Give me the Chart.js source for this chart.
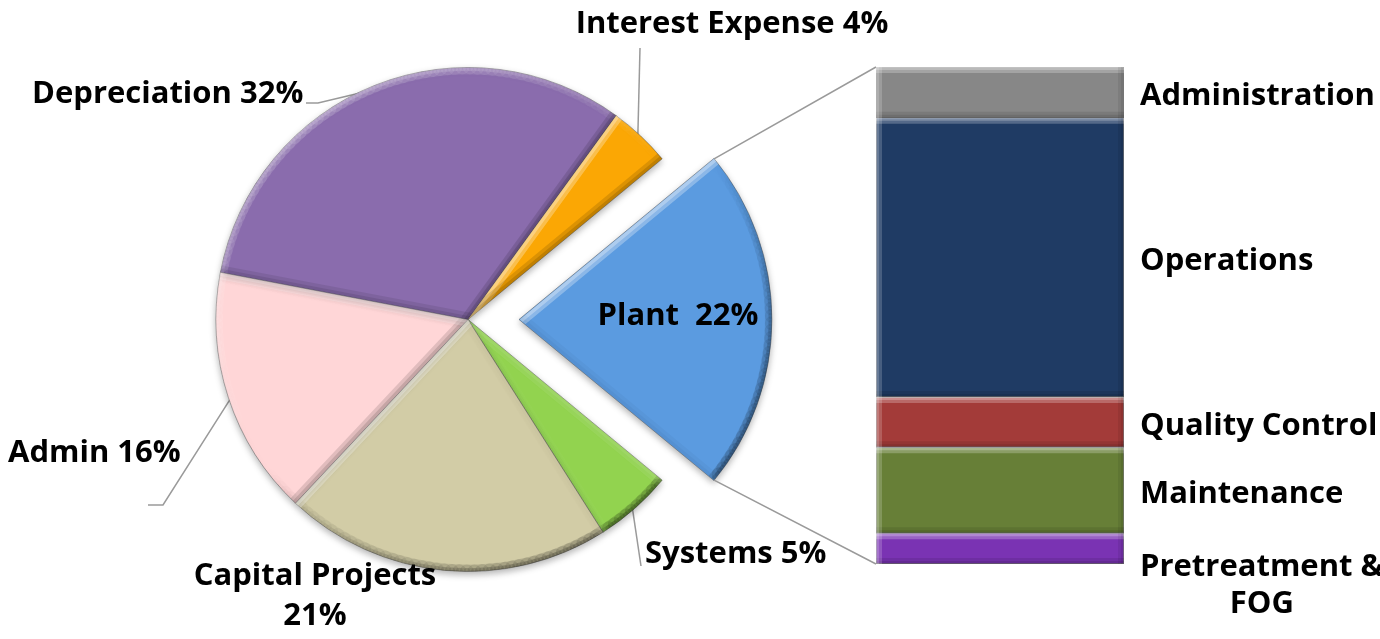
<!DOCTYPE html>
<html>
<head>
<meta charset="utf-8">
<script src="https://cdn.jsdelivr.net/npm/chart.js@4.4.0/dist/chart.umd.min.js"></script>
<style>
  html, body { margin: 0; padding: 0; background: #fff; }
  #wrap { position: relative; width: 1380px; height: 639px; overflow: hidden; }
  #wrap canvas { position: absolute; left: 0; top: 0; }
</style>
</head>
<body>
<div id="wrap">
  <canvas id="pieChart" width="1380" height="639"></canvas>
  <canvas id="barChart" width="1380" height="639"></canvas>
</div>
<script>
// budget split (%)
let pieLabels = ['Plant', 'Systems', 'Capital Projects', 'Admin', 'Depreciation', 'Interest Expense']
let pieValues = [22, 5, 21, 16, 32, 4]
let pieColors = ['#5b9be0', '#92d34f', '#d2cca6', '#ffd6d7', '#8a6cad', '#fba704']

// plant breakdown (% of plant), listed bottom to top of the stack
let plantLabels = ['Pretreatment &\nFOG', 'Maintenance', 'Quality Control', 'Operations', 'Administration']
let plantValues = [6.2, 17.3, 10.1, 56.2, 10.2]
let plantColors = ['#7a33b3', '#677f37', '#a33b39', '#1f3b64', '#878787']

let FONT = 'bold 31px "Open Sans"'
let LINE = '#9a9a9a'

// where each pie label sits: x, baseline y, alignment, separator between name and percent
let pieText = [
    { x: 678, y: 325, align: 'center', sep: '  ' },
    { x: 645, y: 563, align: 'left', sep: ' ' },
    { x: 315, y: 585, align: 'center', sep: '\n' },
    { x: 8, y: 462, align: 'left', sep: ' ' },
    { x: 32, y: 103, align: 'left', sep: ' ' },
    { x: 732, y: 33, align: 'center', sep: ' ' }
]
// leader line bends, starting from the middle of each slice's rim
let pieLeaders = [
    null,
    [[641, 566]],
    null,
    [[163, 505], [148, 505]],
    [[318, 103], [306, 103]],
    [[640, 48]]
]

// same shift ArcElement applies for options.offset
function arcShift(el) {
    let off = (el.options.offset || 0) / 4
    let circ = el.endAngle - el.startAngle
    let fix = 1 - Math.sin(Math.min(Math.PI, circ))
    let d = off + off * fix
    let mid = (el.startAngle + el.endAngle) / 2
    return { x: el.x + Math.cos(mid) * d, y: el.y + Math.sin(mid) * d }
}

// soft edge lighting, light coming from upper left
function bevel(ctx, pts, width, curved) {
    let cx = 0, cy = 0
    pts.forEach(p => { cx += p[0]; cy += p[1] })
    cx /= pts.length; cy /= pts.length
    let lx = -0.6, ly = -0.8
    ctx.save()
    ctx.beginPath()
    pts.forEach((p, i) => i ? ctx.lineTo(p[0], p[1]) : ctx.moveTo(p[0], p[1]))
    ctx.closePath()
    ctx.clip()
    ctx.lineCap = 'round'
    for (let i = 0; i < pts.length; i++) {
        let p = pts[i], q = pts[(i + 1) % pts.length]
        let dx = q[0] - p[0], dy = q[1] - p[1]
        let len = Math.hypot(dx, dy)
        if (len < 0.01) continue
        let nx = dy / len, ny = -dx / len
        let mx = (p[0] + q[0]) / 2 - cx, my = (p[1] + q[1]) / 2 - cy
        if (nx * mx + ny * my < 0) { nx = -nx; ny = -ny }
        let k = nx * lx + ny * ly
        // rim of a slice gets only a faint touch
        let s = curved && i > 0 && i < pts.length - 1 ? 0.35 : 1
        let col = k > 0 ? 'rgba(255,255,255,' + (0.3 * k * s) + ')' : 'rgba(0,0,0,' + (0.12 * -k) + ')'
        ctx.strokeStyle = col
        ctx.lineWidth = width
        ctx.beginPath(); ctx.moveTo(p[0], p[1]); ctx.lineTo(q[0], q[1]); ctx.stroke()
        ctx.lineWidth = width / 2
        ctx.stroke()
    }
    ctx.restore()
}

function slicePoints(el) {
    let c = arcShift(el)
    let pts = [[c.x, c.y]]
    let n = Math.max(2, Math.ceil((el.endAngle - el.startAngle) / 0.03))
    for (let i = 0; i <= n; i++) {
        let a = el.startAngle + (el.endAngle - el.startAngle) * i / n
        pts.push([c.x + Math.cos(a) * el.outerRadius, c.y + Math.sin(a) * el.outerRadius])
    }
    return pts
}

let pieDecor = {
    id: 'pieDecor',
    beforeDatasetsDraw(chart) {
        let ctx = chart.ctx
        let meta = chart.getDatasetMeta(0)
        ctx.save()
        ctx.strokeStyle = LINE
        ctx.lineWidth = 1.5
        meta.data.forEach((el, i) => {
            if (!pieLeaders[i]) return
            let c = arcShift(el)
            let mid = (el.startAngle + el.endAngle) / 2
            ctx.beginPath()
            ctx.moveTo(c.x + Math.cos(mid) * (el.outerRadius - 4), c.y + Math.sin(mid) * (el.outerRadius - 4))
            pieLeaders[i].forEach(p => ctx.lineTo(p[0], p[1]))
            ctx.stroke()
        })
        ctx.restore()
        ctx.save()
        ctx.shadowColor = 'rgba(0,0,0,0.3)'
        ctx.shadowBlur = 7
        ctx.shadowOffsetY = 3
    },
    afterDatasetsDraw(chart) {
        let ctx = chart.ctx
        ctx.restore()
        let meta = chart.getDatasetMeta(0)
        meta.data.forEach(el => bevel(ctx, slicePoints(el), 14, true))
        ctx.save()
        ctx.font = FONT
        ctx.fillStyle = '#000'
        ctx.textBaseline = 'alphabetic'
        pieText.forEach((t, i) => {
            let txt = pieLabels[i] + t.sep + pieValues[i] + '%'
            ctx.textAlign = t.align
            txt.split('\n').forEach((line, j) => ctx.fillText(line, t.x, t.y + j * 40))
        })
        ctx.restore()
    }
}

const pieCtx = document.getElementById('pieChart')
const total = pieValues.reduce((a, b) => a + b, 0)

let pieChart = new Chart(pieCtx, {
    type: 'pie',
    data: {
        labels: pieLabels,
        datasets: [{
            data: pieValues,
            backgroundColor: pieColors,
            borderColor: 'rgba(70,70,70,0.45)',
            borderWidth: 1,
            offset: [204, 0, 0, 0, 0, 0]
        }]
    },
    options: {
        responsive: false,
        animation: false,
        radius: 252,
        // plant slice centred on the right-hand side
        rotation: 90 - pieValues[0] / total * 180,
        layout: { padding: { left: 0, right: 444, top: 0, bottom: 0 } },
        plugins: {
            legend: { display: false },
            tooltip: { enabled: false }
        }
    },
    plugins: [pieDecor]
})

let barDecor = {
    id: 'barDecor',
    beforeDatasetsDraw(chart) {
        // lines tying the plant slice to the breakdown column
        let ctx = chart.ctx
        let plant = pieChart.getDatasetMeta(0).data[0]
        let c = arcShift(plant)
        let R = plant.outerRadius
        let top = chart.getDatasetMeta(plantValues.length - 1).data[0]
        let bottom = chart.getDatasetMeta(0).data[0]
        ctx.save()
        ctx.strokeStyle = LINE
        ctx.lineWidth = 1.5
        ctx.beginPath()
        ctx.moveTo(c.x + Math.cos(plant.startAngle) * R, c.y + Math.sin(plant.startAngle) * R)
        ctx.lineTo(top.x - top.width / 2, top.y)
        ctx.moveTo(c.x + Math.cos(plant.endAngle) * R, c.y + Math.sin(plant.endAngle) * R)
        ctx.lineTo(bottom.x - bottom.width / 2, bottom.base)
        ctx.stroke()
        ctx.restore()
        ctx.save()
        ctx.shadowColor = 'rgba(0,0,0,0.3)'
        ctx.shadowBlur = 6
        ctx.shadowOffsetY = 3
    },
    afterDatasetsDraw(chart) {
        let ctx = chart.ctx
        ctx.restore()
        ctx.save()
        ctx.font = FONT
        ctx.fillStyle = '#000'
        ctx.textBaseline = 'alphabetic'
        ctx.textAlign = 'left'
        chart.data.datasets.forEach((ds, i) => {
            let bar = chart.getDatasetMeta(i).data[0]
            let x0 = bar.x + bar.width / 2
            bevel(ctx, [[x0 - bar.width, bar.y], [x0, bar.y], [x0, bar.base], [x0 - bar.width, bar.base]], 12, false)
            let mid = (bar.y + bar.base) / 2
            let lines = ds.label.split('\n')
            let tx = x0 + 16
            if (lines.length == 1) {
                ctx.fillText(lines[0], tx, mid + 13)
            } else {
                let w = ctx.measureText(lines[0]).width
                ctx.fillText(lines[0], tx, mid + 27)
                ctx.textAlign = 'center'
                for (let j = 1; j < lines.length; j++) ctx.fillText(lines[j], tx + w / 2, mid + 27 + j * 37)
                ctx.textAlign = 'left'
            }
        })
        ctx.restore()
    }
}

const barCtx = document.getElementById('barChart')

new Chart(barCtx, {
    type: 'bar',
    data: {
        labels: ['Plant'],
        datasets: plantValues.map((v, i) => ({
            label: plantLabels[i],
            data: [v],
            backgroundColor: plantColors[i],
            borderColor: 'rgba(40,40,40,0.45)',
            borderWidth: 1,
            borderSkipped: false,
            barPercentage: 1,
            categoryPercentage: 1
        }))
    },
    options: {
        responsive: false,
        animation: false,
        layout: { padding: { left: 876, right: 256, top: 67, bottom: 75 } },
        scales: {
            x: { stacked: true, display: false },
            y: { stacked: true, display: false, min: 0, max: 100 }
        },
        plugins: {
            legend: { display: false },
            tooltip: { enabled: false }
        }
    },
    plugins: [barDecor]
})
</script>
</body>
</html>
